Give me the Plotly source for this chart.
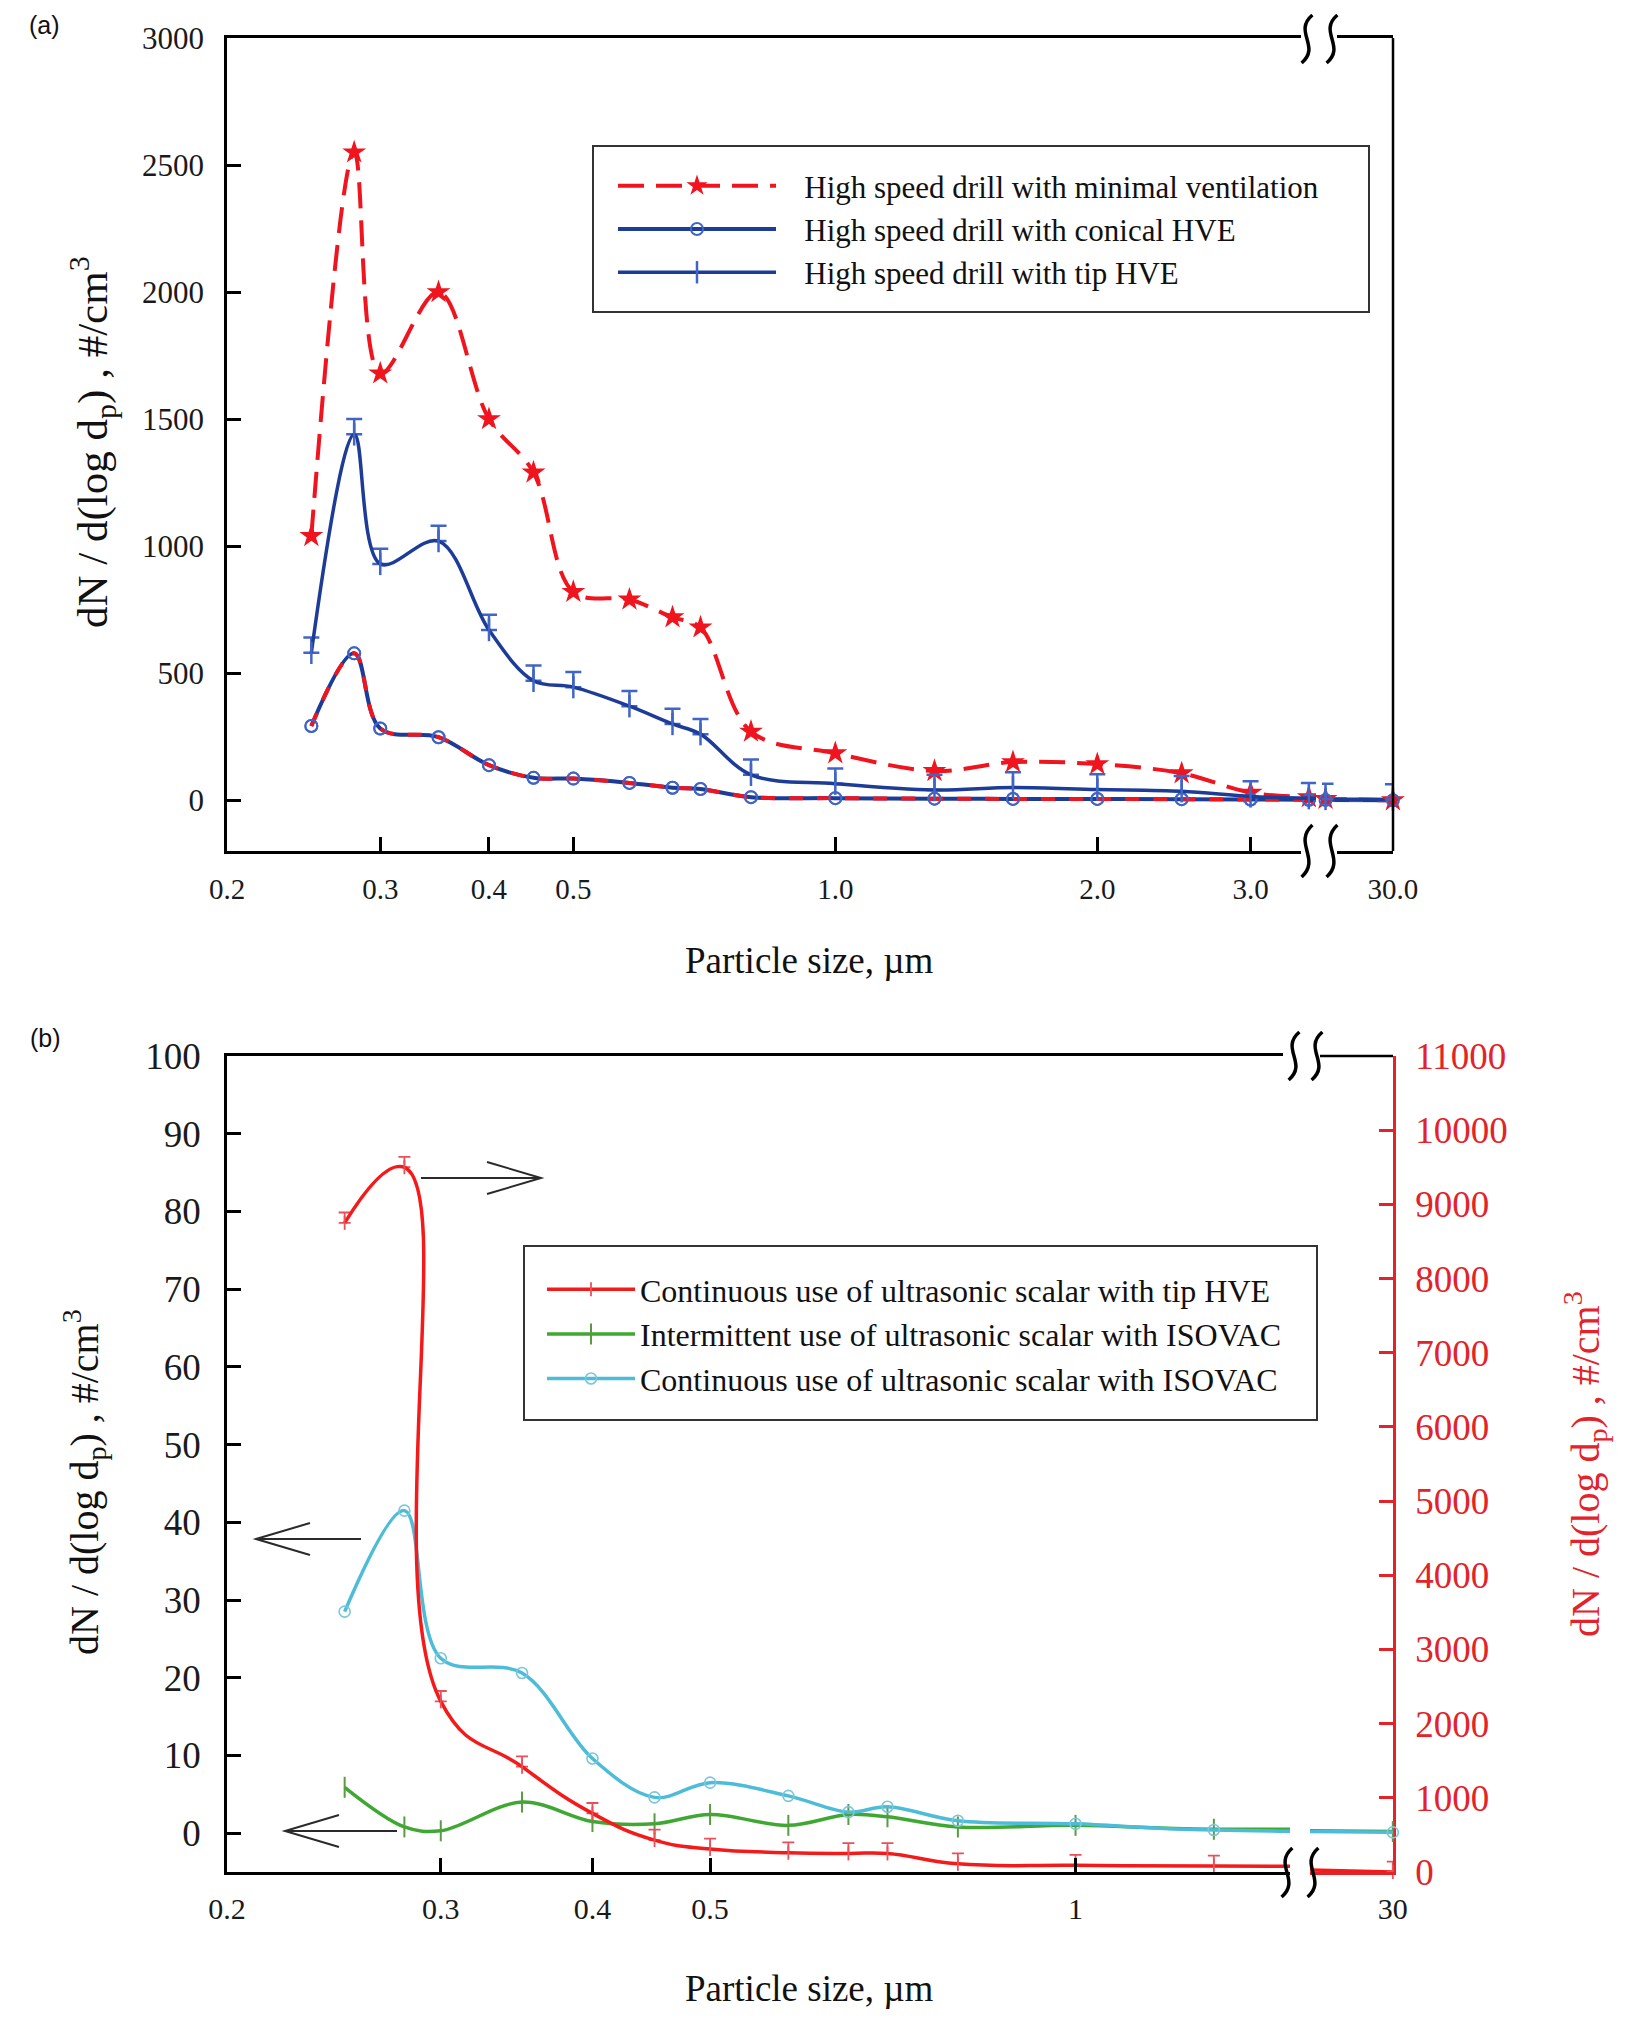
import numpy as np
import plotly.graph_objects as go

# ---------------- data ----------------
# Panel (a)
size_a = [0.25, 0.28, 0.30, 0.35, 0.40, 0.45, 0.50, 0.58, 0.65, 0.70, 0.80,
          1.0, 1.3, 1.6, 2.0, 2.5, 3.0, 3.5, 4.0, 30.0]
minimal_vent = [1040, 2550, 1680, 2000, 1500, 1290, 820, 790, 720, 680, 270,
                185, 115, 150, 142, 106, 30, 12, 5, 0]
conical_hve = [292, 578, 282, 248, 138, 88, 85, 68, 49, 44, 12,
               8, 6, 5, 5, 4, 3, 2, 1, 0]
tip_hve = [580, 1440, 930, 1020, 670, 470, 445, 370, 300, 260, 100,
           65, 40, 50, 42, 35, 15, 8, 5, 3]

# Panel (b)
size_b = [0.25, 0.28, 0.30, 0.35, 0.40, 0.45, 0.50, 0.58, 0.65, 0.70, 0.80, 1.0, 1.3, 30.0]
scalar_tip_hve = [8750, 9500, 2300, 1420, 790, 430, 310, 260, 250, 250, 110, 90, 80, 0]
scalar_int_isovac = [5.9, 0.8, 0.3, 4.0, 1.5, 1.2, 2.4, 1.0, 2.4, 2.1, 0.8, 1.0, 0.5, 0.2]
scalar_cont_isovac = [28.5, 41.5, 22.5, 20.6, 9.6, 4.6, 6.5, 4.8, 2.7, 3.4, 1.6, 1.2, 0.4, 0.1]

# tick labels
xticks_a = [0.2, 0.3, 0.4, 0.5, 1.0, 2.0, 3.0]
xticktext_a = ["0.2", "0.3", "0.4", "0.5", "1.0", "2.0", "3.0"]
xticks_a_far = [30.0]
xticktext_a_far = ["30.0"]
xticks_b = [0.2, 0.3, 0.4, 0.5, 1.0]
xticktext_b = ["0.2", "0.3", "0.4", "0.5", "1"]
xticks_b_far = [30.0]
xticktext_b_far = ["30"]
yticks_a = [0, 500, 1000, 1500, 2000, 2500, 3000]
yticks_b_left = list(range(0, 101, 10))
yticks_b_right = list(range(0, 11001, 1000))

# ---------------- geometry helpers ----------------
W, H, OFF = 1612, 2009, 8


def px(X):
    return (X - OFF) / W


def py(Y):
    return 1 - (Y - OFF) / H


SERIF = "Liberation Serif"
RED = "#f0141e"
NAVY = "#1c3c98"
BLUE_MK = "#4165c6"
RED_B = "#f51a1a"
RED_AX = "#e3222a"
GREEN = "#3fa832"
GREEN_MK = "#5a9a44"
CYAN = "#4cbcd8"
CYAN_MK = "#7cc6dc"
PAD = "\u00a0\u00a0\u00a0"

A_FAR_START = 3.6
B_FAR_START = 10.0


def far_line(xs, ys, start):
    k = max(i for i, v in enumerate(xs) if v < start)
    return xs[k:], ys[k:]


def far_pts(xs, ys, start):
    pts = [(a, b) for a, b in zip(xs, ys) if a >= start]
    return [p[0] for p in pts], [p[1] for p in pts]


fig = go.Figure()

# ================= panel (a) =================
red_line = dict(color=RED, width=4, dash="26px,12px", shape="spline")
star = dict(symbol="star", size=18, color=RED, line=dict(width=0))
fig.add_trace(go.Scatter(x=size_a, y=minimal_vent, xaxis="x", yaxis="y", mode="lines+markers",
                         name=PAD + "High speed drill with minimal ventilation", legend="legend",
                         line=red_line, marker=star))
circ = dict(symbol="circle-open", size=12, color=BLUE_MK, line=dict(width=2, color=BLUE_MK))
fig.add_trace(go.Scatter(x=size_a, y=conical_hve, xaxis="x", yaxis="y", mode="lines+markers",
                         name=PAD + "High speed drill with conical HVE", legend="legend",
                         line=dict(color=NAVY, width=4, shape="spline"), marker=circ))
fig.add_trace(go.Scatter(x=size_a, y=conical_hve, xaxis="x", yaxis="y", mode="lines",
                         showlegend=False, hoverinfo="skip",
                         line=dict(color=RED, width=4, dash="14px,14px", shape="spline")))
fig.add_trace(go.Scatter(x=size_a, y=conical_hve, xaxis="x", yaxis="y", mode="markers",
                         showlegend=False, hoverinfo="skip", marker=circ))
tee_a = dict(symbol="line-ns", size=16, color=BLUE_MK, line=dict(width=2.5, color=BLUE_MK))
err_a = dict(type="constant", value=60, valueminus=0, symmetric=False, width=8,
             thickness=2.5, color=BLUE_MK)
fig.add_trace(go.Scatter(x=size_a, y=tip_hve, xaxis="x", yaxis="y", mode="lines+markers",
                         name=PAD + "High speed drill with tip HVE", legend="legend",
                         line=dict(color=NAVY, width=3.5, shape="spline"), marker=tee_a,
                         error_y=err_a))

for ys, ln in [(minimal_vent, dict(color=RED, width=4, dash="26px,12px")),
               (conical_hve, dict(color=NAVY, width=4)),
               (conical_hve, dict(color=RED, width=4, dash="14px,14px")),
               (tip_hve, dict(color=NAVY, width=3.5))]:
    fx, fy = far_line(size_a, ys, A_FAR_START)
    fig.add_trace(go.Scatter(x=fx, y=fy, xaxis="x2", yaxis="y", mode="lines",
                             showlegend=False, hoverinfo="skip", line=ln))
for ys, mk, eb in [(minimal_vent, star, None), (conical_hve, circ, None), (tip_hve, tee_a, err_a)]:
    fx, fy = far_pts(size_a, ys, A_FAR_START)
    fig.add_trace(go.Scatter(x=fx, y=fy, xaxis="x2", yaxis="y", mode="markers",
                             showlegend=False, hoverinfo="skip", marker=mk,
                             error_y=eb, cliponaxis=False))

# ================= panel (b) =================
tee_b = dict(symbol="line-ns", size=10, color="#e8505a", line=dict(width=1.8, color="#e8505a"))
err_b = dict(type="constant", value=140, valueminus=0, symmetric=False, width=6,
             thickness=1.8, color="#e8505a")
plus_b = dict(symbol="line-ns", size=15, color=GREEN_MK, line=dict(width=2, color=GREEN_MK))
c_b = dict(symbol="circle-open", size=11, color=CYAN_MK, line=dict(width=1.6, color=CYAN_MK))

fig.add_trace(go.Scatter(x=size_b, y=scalar_tip_hve, xaxis="x3", yaxis="y4", mode="lines+markers",
                         name="Continuous use of ultrasonic scalar with tip HVE", legend="legend2",
                         legendrank=1,
                         line=dict(color=RED_B, width=3.5, shape="spline", smoothing=1.3),
                         marker=tee_b, error_y=err_b))
fig.add_trace(go.Scatter(x=size_b, y=scalar_int_isovac, xaxis="x3", yaxis="y3", mode="lines+markers",
                         name="Intermittent use of ultrasonic scalar with ISOVAC", legend="legend2",
                         legendrank=2, line=dict(color=GREEN, width=3.5, shape="spline"),
                         marker=plus_b))
fig.add_trace(go.Scatter(x=size_b, y=scalar_cont_isovac, xaxis="x3", yaxis="y3", mode="lines+markers",
                         name="Continuous use of ultrasonic scalar with ISOVAC", legend="legend2",
                         legendrank=3, line=dict(color=CYAN, width=3.5, shape="spline"),
                         marker=c_b))

for ys, yax, col, mk, eb in [(scalar_tip_hve, "y4", RED_B, tee_b, err_b),
                             (scalar_int_isovac, "y3", GREEN, plus_b, None),
                             (scalar_cont_isovac, "y3", CYAN, c_b, None)]:
    fx, fy = far_line(size_b, ys, B_FAR_START)
    fig.add_trace(go.Scatter(x=fx, y=fy, xaxis="x4", yaxis=yax, mode="lines",
                             showlegend=False, hoverinfo="skip", line=dict(color=col, width=3.5)))
    fx, fy = far_pts(size_b, ys, B_FAR_START)
    fig.add_trace(go.Scatter(x=fx, y=fy, xaxis="x4", yaxis=yax, mode="markers",
                             showlegend=False, hoverinfo="skip", marker=mk, error_y=eb,
                             cliponaxis=False))


# ================= axes =================
def xax(**kw):
    d = dict(type="log", ticks="inside", ticklen=14, tickwidth=2.5, tickcolor="black",
             showline=True, linewidth=2.5, linecolor="black", showgrid=False, zeroline=False,
             automargin=False,
             tickfont=dict(family=SERIF, size=29, color="#1a1a1a"), ticklabelstandoff=10)
    d.update(kw)
    return d


def yax(**kw):
    d = dict(ticks="inside", ticklen=14, tickwidth=2.5, tickcolor="black",
             showline=True, linewidth=2.5, linecolor="black", showgrid=False, zeroline=False,
             automargin=False,
             tickfont=dict(family=SERIF, size=31, color="#1a1a1a"), ticklabelstandoff=14)
    d.update(kw)
    return d


lg = np.log10
fig.update_layout(
    template="none",
    width=W, height=H, autosize=False,
    margin=dict(l=0, r=0, t=0, b=0, pad=0, autoexpand=False),
    paper_bgcolor="white", plot_bgcolor="white",
    xaxis=xax(domain=[px(227), px(1316)], range=[lg(0.2), lg(3.567)], anchor="y", mirror=True,
              tickvals=xticks_a, ticktext=xticktext_a),
    xaxis2=xax(domain=[px(1322), px(1393)], range=[lg(A_FAR_START), lg(30) + 0.001], anchor="y",
               mirror=True, tickvals=xticks_a_far, ticktext=xticktext_a_far),
    yaxis=yax(domain=[py(851), py(38)], range=[-200, 3000], anchor="x", tickvals=yticks_a,
              ticktext=[str(v) for v in yticks_a]),
    xaxis3=xax(domain=[px(227), px(1290)], range=[lg(0.2), lg(1.502)], anchor="y3", mirror=True,
               tickvals=xticks_b, ticktext=xticktext_b, ticklabelstandoff=8,
               tickfont=dict(family=SERIF, size=30, color="#1a1a1a")),
    xaxis4=xax(domain=[px(1310), px(1393)], range=[lg(B_FAR_START), lg(30) + 0.001], anchor="y3",
               mirror=False, linecolor=RED_AX, tickvals=xticks_b_far, ticktext=xticktext_b_far,
               ticklabelstandoff=8,
               tickfont=dict(family=SERIF, size=30, color="#1a1a1a")),
    yaxis3=yax(domain=[py(1872), py(1056)], range=[-5, 100], anchor="x3", tickvals=yticks_b_left,
               ticktext=[str(v) for v in yticks_b_left],
               tickfont=dict(family=SERIF, size=37, color="#1a1a1a"), ticklabelstandoff=16),
    yaxis4=yax(overlaying="y3", side="right", anchor="x4", range=[0, 11000],
               tickvals=yticks_b_right, ticktext=[str(v) for v in yticks_b_right],
               linecolor=RED_AX, tickcolor=RED_AX,
               tickfont=dict(family=SERIF, size=37, color=RED_AX), ticklabelstandoff=12),
    legend=dict(x=px(613), y=py(159), xanchor="left", yanchor="top", bgcolor="rgba(0,0,0,0)",
                borderwidth=0, itemwidth=158, traceorder="normal",
                font=dict(family=SERIF, size=31, color="#111")),
    legend2=dict(x=px(542), y=py(1262), xanchor="left", yanchor="top", bgcolor="rgba(0,0,0,0)",
                 borderwidth=0, itemwidth=88, traceorder="normal",
                 font=dict(family=SERIF, size=32, color="#111")),
)

# ================= decorations (frames, breaks, arrows) =================
shapes = []


def line_shape(x0, y0, x1, y1, color="black", width=2.5):
    shapes.append(dict(type="line", xref="paper", yref="paper", x0=px(x0), y0=py(y0),
                       x1=px(x1), y1=py(y1), line=dict(color=color, width=width), layer="above"))


def rect_shape(x0, y0, x1, y1, fill=None, line_color=None, width=0):
    shapes.append(dict(type="rect", xref="paper", yref="paper", x0=px(x0), y0=py(y0),
                       x1=px(x1), y1=py(y1), fillcolor=fill or "rgba(0,0,0,0)",
                       line=dict(color=line_color or "rgba(0,0,0,0)", width=width), layer="above"))


def path_shape(cmds, color="black", width=3):
    parts = []
    for cmd, pts in cmds:
        coords = " ".join(f"{px(a):.5f},{py(b):.5f}" for a, b in pts)
        parts.append(f"{cmd}{coords}")
    shapes.append(dict(type="path", xref="paper", yref="paper", path=" ".join(parts),
                       line=dict(color=color, width=width), layer="above"))


def squiggle(cx, yt, yb, w=9):
    h = yb - yt
    path_shape([("M", [(cx + 0.6 * w, yt)]),
                ("C", [(cx - 1.6 * w, yt + 0.35 * h), (cx + 1.6 * w, yb - 0.35 * h), (cx - 0.6 * w, yb)])],
               width=3.5)


def arrow(x0, y0, x1, y1, back=54, half=16):
    d = 1 if x1 > x0 else -1
    path_shape([("M", [(x0, y0)]), ("L", [(x1, y1)]),
                ("M", [(x1 - d * back, y1 - half)]), ("L", [(x1, y1)]),
                ("L", [(x1 - d * back, y1 + half)])],
               color="#2a2a2a", width=2)


# panel (a) right border
line_shape(1393, 38, 1393, 851)
# panel (b) top line after break
line_shape(1320, 1056, 1393, 1056)
# masks on axis lines at breaks
rect_shape(1301, 32, 1337, 45, fill="white")
rect_shape(1301, 845, 1337, 858, fill="white")
rect_shape(1283, 1050, 1300, 1062, fill="white")
# break marks
squiggle(1307, 15, 63)
squiggle(1332, 15, 63)
squiggle(1307, 825, 877)
squiggle(1332, 825, 877)
squiggle(1294, 1032, 1080)
squiggle(1317, 1032, 1080)
squiggle(1287, 1848, 1897)
squiggle(1313, 1848, 1897)
# legend boxes
rect_shape(593, 146, 1369, 312, line_color="#333", width=2)
rect_shape(524, 1246, 1317, 1420, line_color="#333", width=2)
# arrows (b)
arrow(421, 1178, 541, 1178)
arrow(361, 1539, 256, 1539)
arrow(397, 1831, 285, 1831)

fig.update_layout(shapes=shapes)

# ================= text =================
ytitle = "dN / d(log d<sub>p</sub>) , #/cm<sup>3</sup>"
ann = []


def text(X, Y, s, size, color="#111", angle=0, family=SERIF):
    ann.append(dict(xref="paper", yref="paper", x=px(X), y=py(Y), text=s, showarrow=False,
                    xanchor="center", yanchor="middle", textangle=angle,
                    font=dict(family=family, size=size, color=color)))


text(44, 25, "(a)", 25, family="Liberation Sans")
text(45, 1038, "(b)", 25, family="Liberation Sans")
text(809, 960, "Particle size, µm", 37)
text(809, 1988, "Particle size, µm", 37)
text(92, 442, ytitle, 43, angle=-90)
text(84, 1482, ytitle, 40, angle=-90)
text(1585, 1464, ytitle, 40, color=RED_AX, angle=-90)
fig.update_layout(annotations=ann)

fig.write_html("out.html")
